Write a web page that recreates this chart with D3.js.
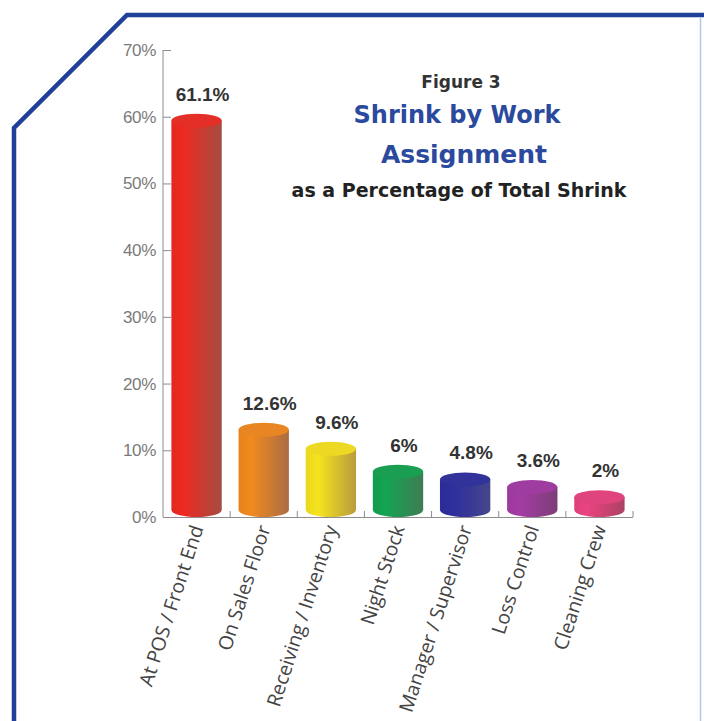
<!DOCTYPE html>
<html>
<head>
<meta charset="utf-8">
<script src="https://cdn.jsdelivr.net/npm/d3@7"></script>
<style>
  html, body { margin: 0; padding: 0; background: #ffffff; }
  svg { display: block; }
</style>
</head>
<body>
<svg id="chart" width="704" height="721"></svg>
<script>
// Work assignments and their share of total shrink (%)
const categories = [
  "At POS / Front End",
  "On Sales Floor",
  "Receiving / Inventory",
  "Night Stock",
  "Manager / Supervisor",
  "Loss Control",
  "Cleaning Crew"
];
const values = [61.1, 12.6, 9.6, 6, 4.8, 3.6, 2];
const valueLabels = ["61.1%", "12.6%", "9.6%", "6%", "4.8%", "3.6%", "2%"];
const yTicks = [0, 10, 20, 30, 40, 50, 60, 70];
const yTickLabels = ["0%", "10%", "20%", "30%", "40%", "50%", "60%", "70%"];

// Lit face and shaded face of each cylinder
const barLight = ["#ee2a22", "#f28a1e", "#f6e41e", "#14a452", "#2e2e9e", "#a43ca6", "#ea4480"];
const barShade = ["#a44c40", "#aa6c42", "#b89c3e", "#3e7c54", "#46468c", "#7c3e76", "#aa4262"];

const svg = d3.select("#chart");
const W = 704, H = 721;

// Page frame with the clipped top-left corner
svg.append("path")
  .attr("d", "M14,721 L14,128 L127,15 L704,15")
  .attr("fill", "none")
  .attr("stroke", "#1f3f98")
  .attr("stroke-width", 4.5)
  .attr("stroke-linejoin", "miter");
svg.append("line")
  .attr("x1", 700.5).attr("x2", 700.5)
  .attr("y1", 17).attr("y2", H)
  .attr("stroke", "#b4c6ea").attr("stroke-width", 1.5);

// Scales: axis scale plus the recessed scale the 3D cylinders stand on
const x = d3.scaleBand().domain(categories).range([163, 633])
  .paddingInner(0.25).paddingOuter(0.125);
const y = d3.scaleLinear().domain([0, 70]).range([517, 50]);
const yBar = d3.scaleLinear().domain([0, 70]).range([510, 64]);

const axisColor = "#8c8c8c";

// Y axis
const yAxis = svg.append("g").attr("transform", "translate(163,0)")
  .call(d3.axisRight(y).tickValues(yTicks).tickSize(8)
    .tickFormat((d, i) => yTickLabels[i]));
yAxis.select(".domain").attr("stroke", axisColor).attr("d", "M0," + y(70) + "V" + y(0));
yAxis.selectAll(".tick line").attr("stroke", axisColor);
yAxis.selectAll(".tick text")
  .attr("x", -7)
  .attr("text-anchor", "end")
  .attr("fill", "#7a7a7a")
  .style("font-family", "'Liberation Sans', Arial, sans-serif")
  .style("font-size", "17px")
  .style("letter-spacing", "-0.3px");

// X axis baseline with upward ticks at category boundaries
svg.append("line")
  .attr("x1", 163).attr("x2", 633)
  .attr("y1", y(0) + 0.5).attr("y2", y(0) + 0.5)
  .attr("stroke", axisColor);
const bounds = categories.map(c => x(c) - x.step() * x.paddingInner() / 2 + x.step());
svg.append("g").selectAll("line").data(bounds).join("line")
  .attr("x1", d => d).attr("x2", d => d)
  .attr("y1", y(0)).attr("y2", y(0) - 6)
  .attr("stroke", axisColor);

// Gradients for the cylinder bodies
const defs = svg.append("defs");
categories.forEach((c, i) => {
  const g = defs.append("linearGradient")
    .attr("id", "cyl" + i)
    .attr("x1", "0").attr("x2", "1").attr("y1", "0").attr("y2", "0");
  g.append("stop").attr("offset", "0").attr("stop-color", d3.color(barLight[i]).darker(0.15));
  g.append("stop").attr("offset", "0.25").attr("stop-color", barLight[i]);
  g.append("stop").attr("offset", "0.5").attr("stop-color", d3.interpolateRgb(barLight[i], barShade[i])(0.35));
  g.append("stop").attr("offset", "1").attr("stop-color", barShade[i]);
});

const ry = 7;
const bars = svg.append("g").selectAll("g").data(values).join("g");

bars.append("path")
  .attr("d", (d, i) => {
    const cx = x(categories[i]) + x.bandwidth() / 2;
    const rx = x.bandwidth() / 2;
    const yt = yBar(d), yb = yBar(0);
    return `M${cx - rx},${yt} L${cx - rx},${yb} A${rx},${ry} 0 0 0 ${cx + rx},${yb} L${cx + rx},${yt} Z`;
  })
  .attr("fill", (d, i) => `url(#cyl${i})`);

bars.append("ellipse")
  .attr("cx", (d, i) => x(categories[i]) + x.bandwidth() / 2)
  .attr("cy", d => yBar(d))
  .attr("rx", x.bandwidth() / 2)
  .attr("ry", ry)
  .attr("fill", (d, i) => d3.interpolateRgb(barLight[i], barShade[i])(0.15));

// Value labels above each cylinder
bars.append("text")
  .attr("x", (d, i) => x(categories[i]) + x.bandwidth() / 2 + 6)
  .attr("y", d => yBar(d) - ry - 13)
  .attr("text-anchor", "middle")
  .attr("fill", "#333333")
  .style("font-family", "'Liberation Sans', Arial, sans-serif")
  .style("font-weight", "bold")
  .style("font-size", "19px")
  .text((d, i) => valueLabels[i]);

// Rotated category labels
svg.append("g").selectAll("text").data(categories).join("text")
  .attr("transform", d => `translate(${x(d) + x.bandwidth() / 2 + 7},528) rotate(-72)`)
  .attr("text-anchor", "end")
  .attr("fill", "#444444")
  .style("font-family", "'Open Sans', sans-serif")
  .style("font-size", "19.5px")
  .text(d => d);

// Titles
const title = svg.append("g").attr("text-anchor", "middle");
title.append("text")
  .attr("x", 461).attr("y", 88)
  .attr("fill", "#333333")
  .style("font-family", "'DejaVu Sans', sans-serif")
  .style("font-weight", "bold")
  .style("font-size", "17px")
  .text("Figure 3");
title.append("text")
  .attr("x", 457).attr("y", 123)
  .attr("fill", "#2b4a9e")
  .style("font-family", "'DejaVu Sans', sans-serif")
  .style("font-weight", "bold")
  .style("font-size", "24px")
  .text("Shrink by Work");
title.append("text")
  .attr("x", 464).attr("y", 163)
  .attr("fill", "#2b4a9e")
  .style("font-family", "'DejaVu Sans', sans-serif")
  .style("font-weight", "bold")
  .style("font-size", "25px")
  .text("Assignment");
title.append("text")
  .attr("x", 459).attr("y", 197)
  .attr("fill", "#222222")
  .style("font-family", "'DejaVu Sans', sans-serif")
  .style("font-weight", "bold")
  .style("font-size", "19px")
  .text("as a Percentage of Total Shrink");
</script>
</body>
</html>
